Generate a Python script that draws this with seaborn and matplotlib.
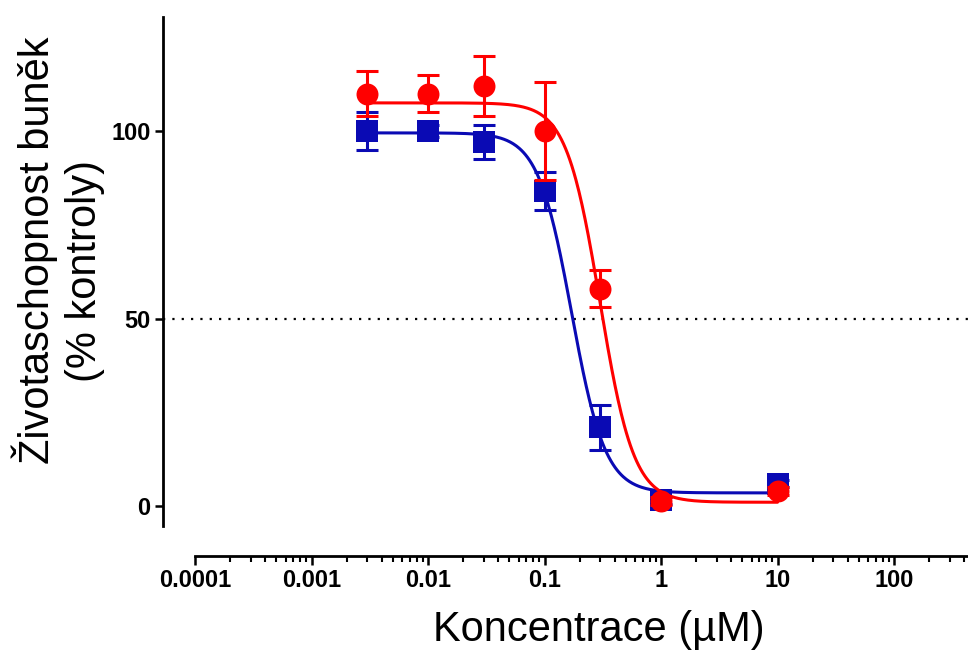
import numpy as np
import pandas as pd
import seaborn as sns
import matplotlib.pyplot as plt
from matplotlib.ticker import FixedLocator, FixedFormatter, NullFormatter

# measured points (concentration in uM, viability in % of control)
conc = [0.003, 0.01, 0.03, 0.1, 0.3, 1, 10]
blue_mean = [100, 100, 97, 84, 21, 1.5, 6]
blue_err = [5, 1.5, 4.5, 5, 6, 1, 1]
red_mean = [110, 110, 112, 100, 58, 1.3, 4]
red_err = [6, 5, 8, 13, 5, 1, 1]

# fitted sigmoid parameters: bottom, top, IC50, hill slope
blue_fit = [3.5, 99.5, 0.171, 3.0]
red_fit = [1.0, 107.5, 0.30, 3.0]

x_ticks = [0.0001, 0.001, 0.01, 0.1, 1, 10, 100]
x_tick_labels = ["0.0001", "0.001", "0.01", "0.1", "1", "10", "100"]
y_ticks = [0, 50, 100]

BLUE = "#0A0AB4"
RED = "#FF0000"


def fit_curve(params):
    bottom, top, ic50, hill = params
    xs = np.logspace(np.log10(conc[0]), np.log10(conc[-1]), 400)
    ys = bottom + (top - bottom) / (1 + (xs / ic50) ** hill)
    return pd.DataFrame({"x": xs, "y": ys})


sns.set_theme(style="ticks")
plt.rcParams["font.family"] = ["Liberation Sans", "DejaVu Sans"]

fig = plt.figure(figsize=(9.68, 6.53), dpi=100)
ax = fig.add_axes([163 / 968, 97 / 653, 805 / 968, 539 / 653])
ax.set_xscale("log")

# pixel calibration: 116.5 px per decade, 3.75 px per % unit
x_left = 10 ** (-4 - 32 / 116.5)
x_right = 10 ** (-4 + 773 / 116.5)
ax.set_xlim(x_left, x_right)
ax.set_ylim(-50 / 3.75, 489 / 3.75)

ax.axhline(50, color="black", linewidth=1.6, dashes=(1, 3.2), zorder=1)

for mean, err, params, color, marker, z in [
    (blue_mean, blue_err, blue_fit, BLUE, "s", 3),
    (red_mean, red_err, red_fit, RED, "o", 6),
]:
    curve = fit_curve(params)
    sns.lineplot(data=curve, x="x", y="y", ax=ax, color=color, linewidth=2.2,
                 estimator=None, sort=False, zorder=z)
    ax.errorbar(conc, mean, yerr=err, fmt="none", ecolor=color, elinewidth=2.2,
                capsize=8, capthick=2.2, zorder=z + 1)
    sns.scatterplot(x=conc, y=mean, ax=ax, color=color, marker=marker, s=250,
                    linewidth=0, zorder=z + 2)

sns.despine(ax=ax)
ax.spines["left"].set_bounds(-20 / 3.75, 489 / 3.75)
ax.spines["bottom"].set_bounds(1e-4, x_right)
for side in ["left", "bottom"]:
    ax.spines[side].set_linewidth(2.0)
    ax.spines[side].set_color("black")

ax.set_yticks(y_ticks)
ax.set_yticklabels([str(v) for v in y_ticks])
ax.xaxis.set_major_locator(FixedLocator(x_ticks))
ax.xaxis.set_major_formatter(FixedFormatter(x_tick_labels))
minor = [m * 10.0 ** d for d in range(-4, 3) for m in range(2, 10)]
minor = [v for v in minor if v <= x_right]
ax.xaxis.set_minor_locator(FixedLocator(minor))
ax.xaxis.set_minor_formatter(NullFormatter())

ax.tick_params(axis="y", which="major", length=6, width=1.8, pad=3,
               labelsize=17, color="black")
ax.tick_params(axis="x", which="major", length=6.5, width=1.8, pad=3,
               labelsize=17, color="black")
ax.tick_params(axis="x", which="minor", length=4, width=1.5, color="black")
for lab in ax.get_xticklabels() + ax.get_yticklabels():
    lab.set_fontweight("bold")
    lab.set_color("black")

ax.set_xlabel("")
ax.set_ylabel("")
fig.text(35 / 968, 1 - 250 / 653, "Životaschopnost buněk", rotation=90,
         ha="center", va="center", fontsize=30, color="black")
fig.text(85 / 968, 1 - 271 / 653, "(% kontroly)", rotation=90,
         ha="center", va="center", fontsize=30, color="black")
fig.text(599 / 968, 1 - 630 / 653, "Koncentrace (µM)", ha="center",
         va="center", fontsize=30, color="black")

fig.savefig("out.png", dpi=100)
